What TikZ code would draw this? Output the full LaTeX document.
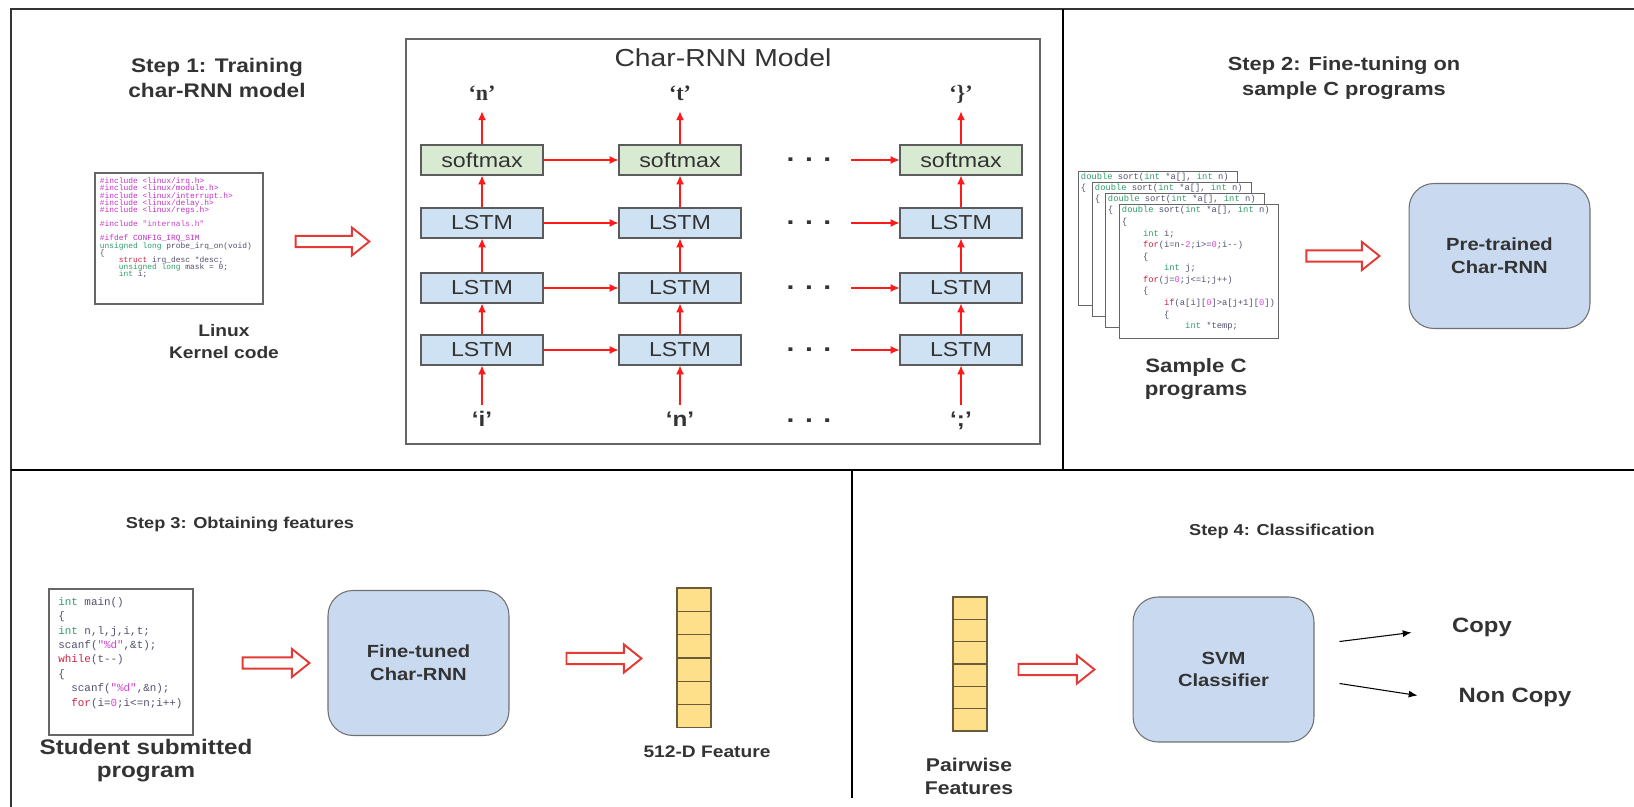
\documentclass[tikz,border=0pt]{standalone}
\usepackage{fontspec}
\setmainfont{Liberation Sans}[FakeStretch=1.15]
\setmonofont{Liberation Mono}
\newfontfamily\quotefont{Liberation Serif}
\usetikzlibrary{arrows.meta,positioning,calc}
\definecolor{cnInk}{HTML}{333333}
\definecolor{cnRed}{HTML}{FF1A1A}
\definecolor{cnHollow}{HTML}{E53935}
\definecolor{cnGreen}{HTML}{D9EAD3}
\definecolor{cnBlue}{HTML}{CFE2F3}
\definecolor{cnRound}{HTML}{C9DAF0}
\definecolor{cnCell}{HTML}{FFE08A}
\definecolor{cnCellEdge}{HTML}{6B5B3A}
\definecolor{cdInc}{HTML}{C030C0}
\definecolor{cdKey}{HTML}{2E9E6A}
\definecolor{cdCtl}{HTML}{D02040}
\definecolor{cdStr}{HTML}{D040D0}
\definecolor{cdNum}{HTML}{E040E0}
\definecolor{cdTxt}{HTML}{505070}

\newcommand{\codeind}[1]{\hspace*{#1\dimexpr0.6em\relax}}
\newcommand{\tightlines}{\lineskiplimit=-5pt\relax}
\newcommand{\linuxcode}{%
\textcolor{cdInc}{\#include <linux/irq.h>}\\
\textcolor{cdInc}{\#include <linux/module.h>}\\
\textcolor{cdInc}{\#include <linux/interrupt.h>}\\
\textcolor{cdInc}{\#include <linux/delay.h>}\\
\textcolor{cdInc}{\#include <linux/regs.h>}\\[4pt]
\textcolor{cdInc}{\#include} \textcolor{cdStr}{"internals.h"}\\[4pt]
\textcolor{cdInc}{\#ifdef CONFIG\_IRQ\_SIM}\\
\textcolor{cdKey}{unsigned long} probe\_irq\_on(void)\\
\{\\
\codeind{4}\textcolor{cdCtl}{struct} irq\_desc *desc;\\
\codeind{4}\textcolor{cdKey}{unsigned long} mask = 0;\\
\codeind{4}\textcolor{cdKey}{int} i;}
\newcommand{\sorthead}{%
\textcolor{cdKey}{double} sort(\textcolor{cdKey}{int} *a[], \textcolor{cdKey}{int} n)\\
\{}
\newcommand{\sortcode}{%
\sorthead\\
\codeind{4}\textcolor{cdKey}{int} i;\\
\codeind{4}\textcolor{cdCtl}{for}(i=n-\textcolor{cdNum}{2};i>=\textcolor{cdNum}{0};i--)\\
\codeind{4}\{\\
\codeind{8}\textcolor{cdKey}{int} j;\\
\codeind{4}\textcolor{cdCtl}{for}(j=\textcolor{cdNum}{0};j<=i;j++)\\
\codeind{4}\{\\
\codeind{8}\textcolor{cdCtl}{if}(a[i][\textcolor{cdNum}{0}]>a[j+1][\textcolor{cdNum}{0}])\\
\codeind{8}\{\\
\codeind{12}\textcolor{cdKey}{int} *temp;}
\newcommand{\studentcode}{%
\textcolor{cdKey}{int} main()\\
\{\\
\textcolor{cdKey}{int} n,l,j,i,t;\\
scanf(\textcolor{cdStr}{"\%d"},\&t);\\
\textcolor{cdCtl}{while}(t--)\\
\{\\
\codeind{2}scanf(\textcolor{cdStr}{"\%d"},\&n);\\
\codeind{2}\textcolor{cdCtl}{for}(i=\textcolor{cdNum}{0};i<=n;i++)}
\newcommand{\fatarrow}[2]{%
  \draw[fatarr] let \p1=(#1), \p2=(#2) in
    (\x1,{\y2+3.2pt}) -- ({\x2-10pt},{\y2+3.2pt}) -- ({\x2-10pt},{\y2+8pt})
    -- (\x2,\y2) -- ({\x2-10pt},{\y2-8pt}) -- ({\x2-10pt},{\y2-3.2pt})
    -- (\x1,{\y2-3.2pt}) -- cycle;}

\tikzset{
  panelframe/.style={cnInk,line width=1.1pt},
  divider/.style   ={black,line width=1.2pt},
  smbox/.style     ={draw=cnInk!80,fill=cnGreen,line width=0.6pt,minimum width=2.44cm,
                     minimum height=0.6cm,inner sep=0pt,font=\fontsize{11.5}{12}\selectfont},
  lstmbox/.style   ={smbox,fill=cnBlue},
  rnnbox/.style    ={draw=cnInk!70,fill=cnRound,line width=0.6pt,rounded corners=0.5cm,
                     minimum width=3.62cm,minimum height=2.9cm,align=center,
                     font=\bfseries\fontsize{10}{13}\selectfont},
  steptitle/.style ={font=\bfseries\fontsize{10.8}{14.5}\selectfont,align=center},
  smalltitle/.style={font=\bfseries\fontsize{9}{11}\selectfont,align=center},
  lbl/.style       ={font=\bfseries\fontsize{11}{13}\selectfont,align=center},
  outchr/.style    ={font=\quotefont\bfseries\fontsize{12.5}{12}\selectfont,
                     text height=9pt,text depth=2.5pt},
  inchr/.style     ={font=\bfseries\fontsize{12}{12}\selectfont,text height=9pt,text depth=2.5pt},
  ellip/.style     ={font=\bfseries\fontsize{14}{14}\selectfont,inner sep=0pt},
  flow/.style      ={-{Latex[length=5pt,width=4.5pt]},cnRed,line width=0.7pt},
  clsarrow/.style  ={-{Latex[length=5pt,width=4pt]},black,line width=0.6pt},
  fatarr/.style    ={draw=cnHollow,fill=white,line width=1.1pt,line join=miter},
  codebox/.style   ={draw=cnInk!75,fill=white,line width=0.8pt,inner sep=0pt},
  codetext/.style  ={align=left,anchor=north west,inner sep=0pt,text=cdTxt},
  cell/.style      ={draw=cnCellEdge,fill=cnCell,line width=0.6pt,minimum width=0.68cm,inner sep=0pt},
}

\begin{document}
\begin{tikzpicture}[x=0.02cm,y=-0.02cm,font=\fontsize{11}{13}\selectfont,text=cnInk]
\useasboundingbox (0,0) rectangle (1634,807);
% frame and panel dividers
\draw[panelframe] (11,807) -- (11,9) -- (1634,9);
\draw[divider] (11,470) -- (1634,470);
\draw[divider] (1063,9) -- (1063,470);
\draw[divider] (852,470) -- (852,798);

% step 1
\node[steptitle,font=\bfseries\fontsize{11.2}{14.5}\selectfont] (s1) at (217,78) {Step 1: Training\\char-RNN model};
\node[codebox,minimum width=3.36cm,minimum height=2.62cm] (linux) at (179,238.5) {};
\node[codetext,font=\ttfamily\fontsize{4.5}{4.1}\selectfont\tightlines] at ([xshift=3pt,yshift=-3pt]linux.north west) {\linuxcode};
\node[lbl,font=\bfseries\fontsize{9.5}{12.5}\selectfont] (linuxlbl) at (224,342) {Linux\\Kernel code};

% char-RNN model
\node[draw=cnInk!75,line width=0.8pt,minimum width=12.68cm,minimum height=8.1cm] (model) at (723,241.5) {};
\node[font=\fontsize{14}{14}\selectfont] (mtitle) at (723,58) {Char-RNN Model};
\foreach \col/\xc/\outch/\inch in {1/482/‘n’/‘i’, 2/680/‘t’/‘n’, 3/961/‘\}’/‘;’}{
  \node[smbox] (sm\col) at (\xc,160) {softmax};
  \node[lstmbox] (la\col) at (\xc,223) {LSTM};
  \node[lstmbox] (lb\col) at (\xc,288) {LSTM};
  \node[lstmbox] (lc\col) at (\xc,350) {LSTM};
  \node[outchr] (out\col) at (\xc,95) {\outch};
  \node[inchr] (in\col) at (\xc,421) {\inch};
  \draw[flow] (in\col) -- (lc\col);
  \draw[flow] (lc\col) -- (lb\col);
  \draw[flow] (lb\col) -- (la\col);
  \draw[flow] (la\col) -- (sm\col);
  \draw[flow] (sm\col) -- (out\col);
}
\foreach \rw/\yy in {sm/160,la/223,lb/288,lc/350}{
  \node[ellip] (d\rw) at (809,\yy) {. . .};
  \draw[flow] (\rw1) -- (\rw2);
  \draw[flow] ([xshift=11pt]d\rw.east) -- (\rw3);
}
\node[ellip] (din) at (809,421) {. . .};
\fatarrow{$(linux.east)+(32,0)$}{$(model.west)+(-36,0)$}

% step 2
\node[steptitle] (s2) at (1344,78) {Step 2: Fine-tuning on\\sample C programs};
\foreach \pg/\dx/\dy in {3/-41/-33,2/-27/-22,1/-14/-11}{
  \node[codebox,anchor=north west,minimum width=3.18cm,minimum height=2.68cm] (pg\pg) at ({1119+\dx},{204+\dy}) {};
  \begin{scope}
    \clip (pg\pg.north west) rectangle (pg\pg.south east);
    \node[codetext,font=\ttfamily\fontsize{5}{6.2}\selectfont] at ([xshift=1.5pt,yshift=-1.2pt]pg\pg.north west) {\sorthead};
  \end{scope}
}
\node[codebox,anchor=north west,minimum width=3.18cm,minimum height=2.68cm] (pg0) at (1119,204) {};
\node[codetext,font=\ttfamily\fontsize{5}{6.6}\selectfont] (sortc) at ([xshift=1.5pt,yshift=-1.2pt]pg0.north west) {\sortcode};
\node[lbl] (samplelbl) at (1196,379) {Sample C\\programs};
\node[rnnbox] (pretrained) at (1499.5,256) {Pre-trained\\Char-RNN};
\fatarrow{$(pg0.east)+(27,0)$}{$(pretrained.west)+(-29,0)$}

% step 3
\node[smalltitle] (s3) at (240,524) {Step 3: Obtaining features};
\node[codebox,minimum width=2.88cm,minimum height=2.92cm] (student) at (121,662) {};
\node[codetext,font=\ttfamily\fontsize{6.2}{8.2}\selectfont] at ([xshift=5.5pt,yshift=-5pt]student.north west) {\studentcode};
\node[lbl,font=\bfseries\fontsize{12}{13}\selectfont] (studentlbl) at (146,761) {Student submitted\\program};
\node[rnnbox] (finetuned) at (418.5,663) {Fine-tuned\\Char-RNN};
\foreach \i in {1,...,6}
  \node[cell,minimum height=0.466cm] (fa\i) at (694,{588+23.33*(\i-0.5)}) {};
\node[lbl,font=\bfseries\fontsize{9.5}{12}\selectfont] (fealbl) at (707,752) {512-D Feature};
\fatarrow{$(student.east)+(49,0)$}{$(finetuned.west)+(-18,0)$}
\fatarrow{$(finetuned.east)+(57,0)$}{$(fa3.south west)+(-35,0)$}

% step 4
\node[smalltitle] (s4) at (1282,531) {Step 4: Classification};
\foreach \i in {1,...,6}
  \node[cell,minimum height=0.447cm] (fb\i) at (970,{597+22.33*(\i-0.5)}) {};
\node[lbl,font=\bfseries\fontsize{10.5}{13}\selectfont] (pairlbl) at (969,776) {Pairwise\\Features};
\node[rnnbox] (svm) at (1223.5,669.5) {SVM\\Classifier};
\fatarrow{$(fb3.south east)+(31,0)$}{$(svm.west)+(-38,0)$}
\node[lbl,font=\bfseries\fontsize{11.8}{13}\selectfont] (copy) at (1482,627) {Copy};
\node[lbl,font=\bfseries\fontsize{11.8}{13}\selectfont] (noncopy) at (1515,697) {Non Copy};
\draw[clsarrow] ($(svm.east)+(25,-28)$) -- ++(72,-9);
\draw[clsarrow] ($(svm.east)+(25,14)$) -- ++(78,12);
\end{tikzpicture}
\end{document}
